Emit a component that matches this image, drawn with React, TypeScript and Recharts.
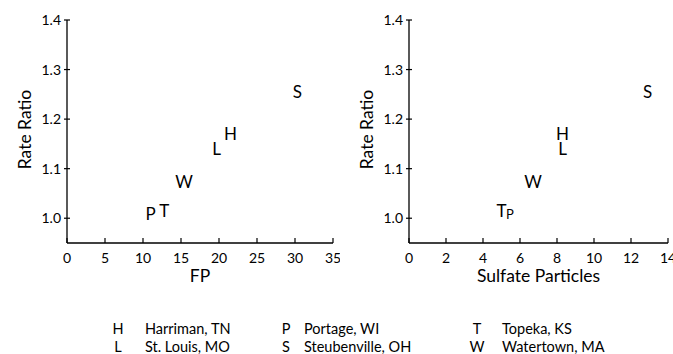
import React from 'react';
import { ScatterChart, Scatter, XAxis, YAxis, Label } from 'recharts';

const cityCodes = ['H', 'L', 'P', 'S', 'T', 'W'];
const cityNames = ['Harriman, TN', 'St. Louis, MO', 'Portage, WI', 'Steubenville, OH', 'Topeka, KS', 'Watertown, MA'];
const rateRatio = [1.17, 1.14, 1.008, 1.255, 1.015, 1.073];
const fpValues = [21.5, 19.7, 11.0, 30.3, 12.8, 15.4];
const sulfateValues = [8.3, 8.3, 5.45, 12.9, 5.0, 6.7];
const rateTicks = [1.0, 1.1, 1.2, 1.3, 1.4];
const fpTicks = [0, 5, 10, 15, 20, 25, 30, 35];
const sulfateTicks = [0, 2, 4, 6, 8, 10, 12, 14];

const FONT = 'Lato, sans-serif';

const fpData = cityCodes.map((c, i) => ({ code: c, x: fpValues[i], y: rateRatio[i] }));
const sulfateData = cityCodes.map((c, i) => ({ code: c, x: sulfateValues[i], y: rateRatio[i] }));

const YTick = (props: any) => {
  const { x, y, payload } = props;
  return (
    <g>
      <line x1={x - 3} x2={x + 3} y1={y} y2={y} stroke="#000" strokeWidth={1.2} />
      <text x={x - 6} y={y} dy="0.36em" textAnchor="end" fontSize={14} fontFamily={FONT} fill="#000">
        {Number(payload.value).toFixed(1)}
      </text>
    </g>
  );
};

const XTick = (props: any) => {
  const { x, y, payload } = props;
  return (
    <g>
      <line x1={x} x2={x} y1={y} y2={y - 5} stroke="#000" strokeWidth={1.2} />
      <text x={x} y={y + 20} textAnchor="middle" fontSize={14} fontFamily={FONT} fill="#000">
        {payload.value}
      </text>
    </g>
  );
};

const makeShape = (small: string | null) => (props: any) => {
  const { cx, cy, payload } = props;
  const fs = payload.code === small ? 13 : 17;
  return (
    <text x={cx} y={cy} dy="0.36em" textAnchor="middle" fontSize={fs} fontFamily={FONT} fill="#000">
      {payload.code}
    </text>
  );
};

const XTitle = (text: string) => (props: any) => {
  const vb = props.viewBox || {};
  return (
    <text x={vb.x + vb.width / 2} y={vb.y + 39} textAnchor="middle" fontSize={17.5} fontFamily={FONT} fill="#000">
      {text}
    </text>
  );
};

const YTitle = (text: string) => (props: any) => {
  const vb = props.viewBox || {};
  const x = vb.x + vb.width - 36;
  const y = vb.y + vb.height / 2 - 2;
  return (
    <text x={x} y={y} transform={`rotate(-90 ${x} ${y})`} textAnchor="middle" fontSize={17.5} fontFamily={FONT} fill="#000">
      {text}
    </text>
  );
};

type PanelProps = {
  data: any[];
  ticks: number[];
  domainMax: number;
  title: string;
  width: number;
  left: number;
  right: number;
  small: string | null;
};

const Panel = ({ data, ticks, domainMax, title, width, left, right, small }: PanelProps) => (
  <ScatterChart width={width} height={300} margin={{ top: 20, left: left - 1, right, bottom: 56 }}>
    <XAxis
      type="number"
      dataKey="x"
      domain={[0, domainMax]}
      ticks={ticks}
      height={1}
      tickSize={0}
      tickMargin={0}
      tickLine={false}
      tick={(p: any) => <XTick {...p} />}
      axisLine={{ stroke: '#000', strokeWidth: 1.3 }}
      interval={0}
      allowDataOverflow
    >
      <Label content={XTitle(title)} />
    </XAxis>
    <YAxis
      type="number"
      dataKey="y"
      domain={[0.95, 1.4]}
      ticks={rateTicks}
      width={1}
      tickSize={0}
      tickMargin={0}
      tickLine={false}
      tick={(p: any) => <YTick {...p} />}
      axisLine={{ stroke: '#000', strokeWidth: 1.3 }}
      interval={0}
      allowDataOverflow
    >
      <Label content={YTitle('Rate Ratio')} />
    </YAxis>
    <Scatter data={data} isAnimationActive={false} shape={makeShape(small)} />
  </ScatterChart>
);

const letterX = [118, 286, 477];
const nameX = [145, 304, 502];
const rowY = [334, 352];

export default function App() {
  return (
    <div style={{ position: 'absolute', left: 0, top: 0, width: 673, height: 354, background: '#fff', overflow: 'hidden' }}>
      <div style={{ position: 'absolute', left: 0, top: 0 }}>
        <Panel data={fpData} ticks={fpTicks} domainMax={35} title="FP" width={340} left={67} right={7} small={null} />
      </div>
      <div style={{ position: 'absolute', left: 340, top: 0 }}>
        <Panel data={sulfateData} ticks={sulfateTicks} domainMax={14} title="Sulfate Particles" width={333} left={69} right={5} small="P" />
      </div>
      <svg style={{ position: 'absolute', left: 0, top: 0 }} width={673} height={354}>
        {cityCodes.map((c, i) => {
          const col = Math.floor(i / 2);
          const row = i % 2;
          return (
            <g key={c}>
              <text x={letterX[col]} y={rowY[row]} textAnchor="middle" fontSize={14.5} fontFamily={FONT} fill="#000">
                {c}
              </text>
              <text x={nameX[col]} y={rowY[row]} fontSize={14.5} fontFamily={FONT} fill="#000">
                {cityNames[i]}
              </text>
            </g>
          );
        })}
      </svg>
    </div>
  );
}
